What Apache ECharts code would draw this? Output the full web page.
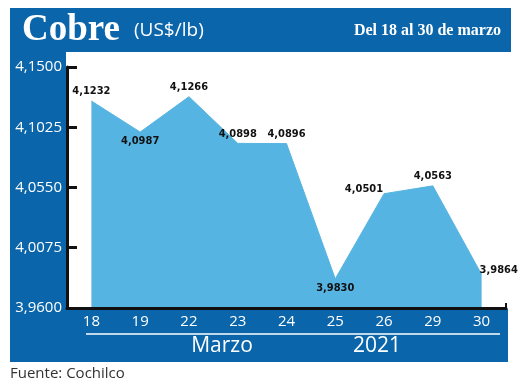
<!DOCTYPE html>
<html><head><meta charset="utf-8">
<script src="https://cdn.jsdelivr.net/npm/echarts@6/dist/echarts.min.js"></script>
<style>html,body{margin:0;padding:0;background:#fff}#c{width:520px;height:388px}</style>
</head><body><div id="c"></div>
<script>
var categories = ['18','19','22','23','24','25','26','29','30'];
var values = [4.1232, 4.0987, 4.1266, 4.0898, 4.0896, 3.9830, 4.0501, 4.0563, 3.9864];
var yTicks = [3.9600, 4.0075, 4.0550, 4.1025, 4.1500];
var labelPositions = ['top','bottom','top','top','top','bottom','left','top','right'];
var labelOffsets = [[0,0],[0,0],[0,0],[0,0],[0,0],[0,0],[3,-5],[0,0],[-6,-4]];

var BLUE = '#0a65aa';
var AREA = '#56b4e2';
function fmt(v){ return v.toFixed(4).replace('.', ','); }

var chart = echarts.init(document.getElementById('c'), null, {renderer:'canvas'});
chart.setOption({
  animation:false,
  grid:{left:67, right:14, top:67, bottom:80},
  graphic:{elements:[
    {type:'rect', silent:true, shape:{x:10,y:8,width:501,height:44}, style:{fill:BLUE}},
    {type:'rect', silent:true, shape:{x:10,y:8,width:56,height:354}, style:{fill:BLUE}},
    {type:'rect', silent:true, shape:{x:10,y:309,width:498,height:53}, style:{fill:BLUE}},
    {type:'text', left:22, top:12, style:{text:'Cobre', fill:'#fff', font:'bold 37px "Liberation Serif", serif'}},
    {type:'text', left:134, top:21, style:{text:'(US$/lb)', fill:'#fff', font:'19px "Open Sans", sans-serif'}},
    {type:'text', right:19, top:23, style:{text:'Del 18 al 30 de marzo', fill:'#fff', font:'bold 16px "Liberation Serif", serif'}},
    {type:'line', silent:true, shape:{x1:86,y1:334,x2:500,y2:334}, style:{stroke:'#fff', lineWidth:1.5}},
    {type:'text', x:222, y:336, style:{text:'Marzo', fill:'#fff', align:'center', font:'21px "Open Sans", sans-serif'}},
    {type:'text', x:377, y:336, style:{text:'2021', fill:'#fff', align:'center', font:'21px "Open Sans", sans-serif'}},
    {type:'text', left:10, top:366, style:{text:'Fuente: Cochilco', fill:'#333', font:'15px "Open Sans", sans-serif'}}
  ]},
  xAxis:{
    type:'category', data:categories, boundaryGap:true, zlevel:1,
    axisLine:{show:true, lineStyle:{color:'#111', width:3}},
    axisTick:{show:true, inside:true, length:5, lineStyle:{color:'#111', width:2},
      interval:function(i){ return i === 6; }},
    axisLabel:{color:'#fff', fontSize:15, fontFamily:'"Open Sans", sans-serif', margin:6}
  },
  yAxis:{
    type:'value', min:yTicks[0], max:yTicks[yTicks.length-1], interval:yTicks[1]-yTicks[0], zlevel:1,
    splitLine:{show:false},
    axisLine:{show:true, lineStyle:{color:'#111', width:3}},
    axisTick:{show:true, inside:true, length:10, lineStyle:{color:'#111', width:3}},
    axisLabel:{color:'#fff', fontSize:15, fontFamily:'"Open Sans", sans-serif', margin:5, formatter:function(v){return fmt(v);}}
  },
  series:[{
    type:'line', symbol:'circle', symbolSize:0, smooth:false,
    itemStyle:{color:AREA},
    lineStyle:{color:AREA, width:1},
    areaStyle:{color:AREA, opacity:1},
    data: values.map(function(v,i){
      return {value:v, label:{show:true, position:labelPositions[i], offset:labelOffsets[i], distance:4,
        formatter:fmt(v), color:'#111', fontSize:11, fontWeight:'bold',
        fontFamily:'"DejaVu Sans Condensed", "Liberation Sans Narrow", sans-serif'}};
    })
  }]
});
</script></body></html>
